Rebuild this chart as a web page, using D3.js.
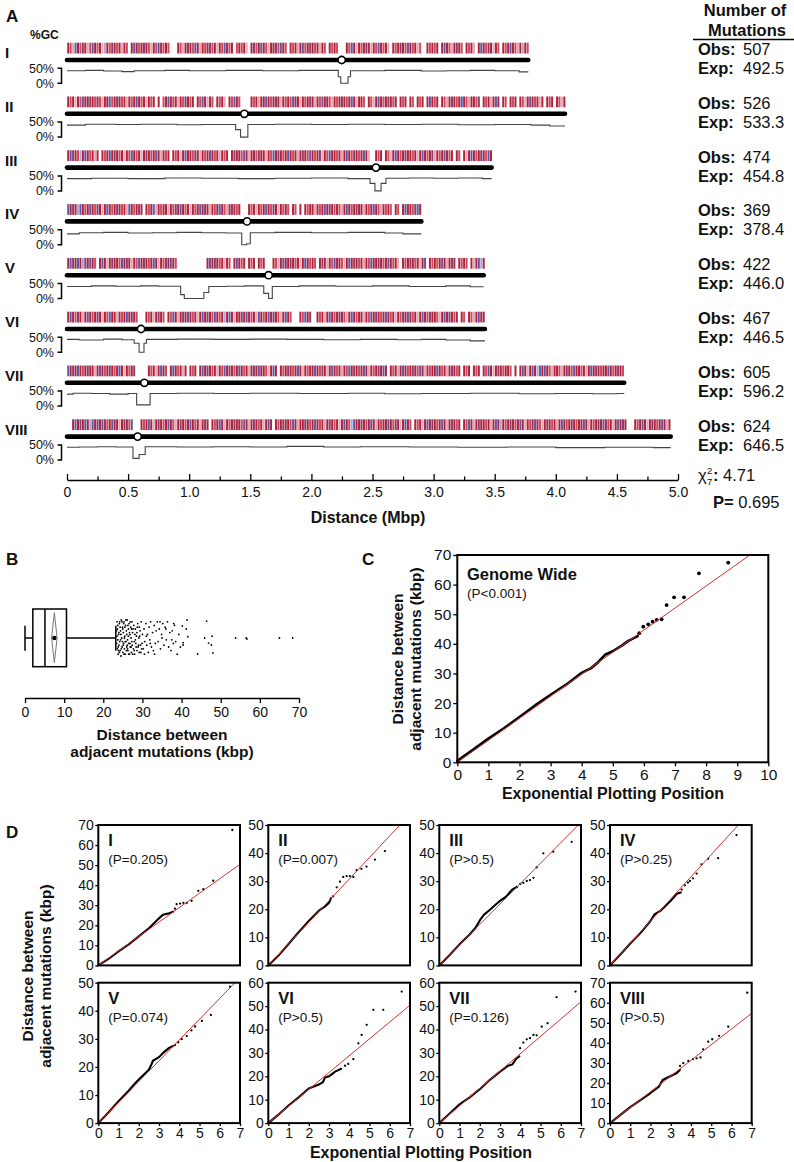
<!DOCTYPE html>
<html><head><meta charset="utf-8">
<script src="https://cdn.jsdelivr.net/npm/d3@7"></script>
<style>
body{margin:0;background:#fff}
svg{display:block}
text{font-family:"Liberation Sans",Arial,Helvetica,sans-serif;fill:#111}
</style>
</head><body>
<svg id="c" width="794" height="1162"></svg>
<script>
// ---------------- DATA ----------------
const chromNames = ["I","II","III","IV","V","VI","VII","VIII"];
const chromLengths = [3.775,4.075,3.475,2.90,3.41,3.42,4.56,4.94];
const centromeres = [2.248,1.451,2.528,1.473,1.65,0.606,0.633,0.578];
const observed = ["507","526","474","369","422","467","605","624"];
const expected = ["492.5","533.3","454.8","378.4","446.0","446.5","596.2","646.5"];
const chiSquare = "4.71";
const pValueA = "0.695";
const distanceTicks = [0,0.5,1,1.5,2,2.5,3,3.5,4,4.5,5];
const distanceMinorTicks = [0.25,0.75,1.25,1.75,2.25,2.75,3.25,3.75,4.25,4.75];
// mutation stripes: one character per 0.02 Mbp bin (R dark red, r red, p pink, b blue, l lavender, m purple, . none)
const stripeBin = 0.02;
const mutationStripes = [
 "RrpbRrmRpr bRrRplRrmR rRpRr.RbRr RmRrpRrbRr Rr...RrpRm RrbRpRrRmr RpRrbRrR.r RrRp.RmrRb RrpRRmrbRr .RrRpRbrRm RrRpRr.RrR r...RrbRpR rRmRpRrbRr Rp.RrRmRrb RrRpr..RrR rR.RbRrpRm Rr.RrRp.Rb RrmRpRr.Rr RbRrpRlRr",
 "RrRpRrbRRm RrRrpRRbrR mRrRpRrRbR rRpRrR.R.r RbRrRpRrmR rR.RrbRpRr .RrRp.RrbR r....RrRpR RbRrRmRpRr RrbRRpRrRm RpRrbRRrpR rRmRrRbRpR Rr.RrpRbRr RmRrR.RrR. Rr.RrR.RbR rR.RrpRmRr RbRrpRRrm. RrRpRbR.Rr .RrR.RrpRb RrRpR.RrR. RrpR",
 "RbmRrlRbRr RpR.RrRbRm RrRpRrbRrR pRmRrRbRpR rR.RrRpRbR RrmRpRrRbR rRpRrR.RmR RrbRpRRrmR RpRrbRmRrR bRrRpRmRrb RrRmpRrbRR rRpRbRrmRr RbRp..RrR. RrpRbRrRmR RrRpRbRrRm pRrRbRrR.R r.RpRbRrRm RrbR",
 "bRmRlbRrRb RrmRpRbRrR mRrRpbRrRm R.RrRbpRrR RpRrmRbRrR pRrRbRmRpR rRbRrpRmRr R...RrRpRr RbRrmRpRrR r.Rr.R.RrR RpRrRbRmRr RrpRbRrRmR RpRrRbRrpR rRr.Rr.RbR RrmbR",
 "RbmRbRlmRb Rr.RbRpRmR RrbRmRpRrb RmRrRbRpRr mRbRr..... .......RbR mRrRpRr.Rb RrR.RrR.Rr R...RrpRbR RmRrRpRbRr Rr.RmRpRrb RRrpRbRmRr RpRrbRRmRr RbRrRp.RrR mRrRpRb.Rr RrRbRpRmR. RrRr.RpRbl R",
 "RbRrmRpRbR rRmRpRrbRR pRrRbRmRr. ..RrRpRmRr .RrbRpRmRb RrRpRbRmRr bRrRlRbRpR RmRbRrRpbR rRbRmRrpRb Rr...RrbRm ..RrRpRbRr RmRrpRbRrR RpRrbRmRrR bRrRpRrmRb RrRpRbRrmR RrpRbRmRrR .Rr.RrpRbR R",
 "bRmRbRrRmR RpRbRrRmRr RbRpRrRm.. ...RrRpRbR r.RbRrRpR. RrR.RbRmRr RpRrbRmRrR bRrRpRmRbR RrpRbR.RrR mRrRbRpRrR RbRrmRpRbR rRpRrbRmRr RbRpRrRmRb R.RrRpRbRr RmRrbRpRrR RbRrRpRmRr R.RrR.RrR. RrbRpRmRrR Rr.R.RbRpR bRlbRbRrpR RrpRmRrbRR rRpRbRmRrR RbRrRmRr",
 "..RbRmRbRl bRmRbRrRbR RpRmRrb... RrRbRpRmRr RbRrpRmRrR bRrRpRmR.R rRbRpRrRmR RrbRpRmRrR pRbR.RrRmR RrbRpRRmRr RbRrRpRmRr RpRbRrlbRR mRrRbRpRrR RbRrmRpRbR r.RrRpRbRm RrRbRpRmRr R.RrbRpRmR RrRpRbRlRr RmRrRbRpRr RbRrpRmRrR pRbRrRmRrR RbRpRrRmRb RrRpRbRmR. ..RrRbRpRm RrRbRpR"
];
// %GC profile: [start Mbp, %GC] steps
const gcSteps = [
 [[0,42],[0.15,43],[0.3,41],[0.45,39],[0.55,42],[0.8,43],[1.0,42],[1.3,43],[1.6,42],[1.9,43],[2.22,22],[2.24,0],[2.30,22],[2.32,42],[2.6,43],[2.9,41],[3.1,42],[3.3,43],[3.5,42],[3.7,38]],
 [[0,40],[0.15,43],[0.4,42],[0.6,43],[0.9,41],[1.1,42],[1.38,25],[1.42,0],[1.48,42],[1.7,43],[2.0,42],[2.3,43],[2.6,42],[2.9,43],[3.2,41],[3.5,42],[3.8,40],[3.95,37]],
 [[0,41],[0.2,42],[0.5,41],[0.8,43],[1.1,42],[1.4,41],[1.7,42],[2.0,43],[2.3,41],[2.48,25],[2.52,0],[2.57,25],[2.61,42],[2.8,43],[3.0,42],[3.2,43],[3.4,41]],
 [[0,36],[0.1,40],[0.3,41],[0.5,39],[0.7,40],[0.9,41],[1.1,40],[1.3,39],[1.43,0],[1.47,3],[1.50,40],[1.7,41],[2.0,40],[2.3,41],[2.6,39],[2.75,36]],
 [[0,40],[0.2,42],[0.4,41],[0.6,42],[0.75,41],[0.93,13],[0.96,0],[1.12,20],[1.16,40],[1.3,41],[1.45,42],[1.61,17],[1.65,0],[1.68,40],[1.9,42],[2.2,41],[2.5,42],[2.8,40],[3.1,42],[3.3,39]],
 [[0,43],[0.1,41],[0.3,44],[0.45,42],[0.55,30],[0.59,0],[0.63,30],[0.65,43],[0.9,44],[1.2,43],[1.5,44],[1.8,43],[2.1,42],[2.4,43],[2.7,42],[2.9,43],[3.1,41],[3.3,38]],
 [[0,40],[0.05,43],[0.2,42],[0.35,40],[0.5,42],[0.57,4],[0.68,42],[0.9,43],[1.2,42],[1.5,43],[1.9,42],[2.3,43],[2.6,41],[2.9,42],[3.3,43],[3.7,41],[4.0,42],[4.3,41],[4.5,42]],
 [[0,42],[0.1,43],[0.25,44],[0.4,43],[0.54,5],[0.59,18],[0.64,44],[0.9,43],[1.2,44],[1.5,43],[1.8,45],[2.1,43],[2.4,44],[2.8,43],[3.2,42],[3.6,43],[4.0,41],[4.4,42],[4.8,41]]
];

// Panel B: box plot of distances (kbp)
const boxMin = 0, boxQ1 = 2.0, boxMedian = 5.1, boxQ3 = 10.6, boxMax = 23.2;
const boxMean = 7.5, boxCiLo = 6.8, boxCiHi = 8.2;
const distanceKbpTicks = [0,10,20,30,40,50,60,70];
// outliers: [distance kbp, vertical jitter -1..1]
const outliers = [
 [23.5,-0.9],[23.6,-0.5],[23.7,0.1],[23.6,0.6],[23.8,0.9],[23.9,-0.2],[24.0,0.4],[24.1,-0.8],[24.2,0.2],[24.3,0.7],[24.4,-0.4],[24.5,1.0],[24.6,-1.0],[24.7,0.0],[24.8,0.5],[24.9,-0.6],[25.0,0.8],[25.1,-0.3],[25.2,0.3],[25.3,-0.9],[25.4,0.6],[25.5,-0.1],[25.6,0.9],[25.7,-0.7],[25.8,0.2],[25.9,-0.4],[26.0,0.5],[26.1,-1.0],[26.2,0.1],[26.3,0.7],[26.4,-0.5],[26.5,0.3],[26.6,-0.8],[26.7,0.9],[26.8,-0.2],[26.9,0.5],[27.0,-0.6],[27.1,0.0],[27.2,0.8],[27.3,-0.9],[27.4,0.4],[27.5,-0.3],[27.7,0.6],[27.8,-0.7],[27.9,0.2],[28.0,0.9],[28.2,-0.5],[28.3,0.3],[28.5,-0.1],[28.6,0.7],[28.8,-0.8],[28.9,0.5],[29.1,0.0],[29.2,0.8],[29.4,-0.4],[29.5,0.4],[29.7,-0.9],[29.8,0.6],[30.0,-0.2],
 [23.4,0.3],[23.5,-0.1],[23.7,-0.7],[23.8,0.5],[24.0,-0.3],[24.1,0.8],[24.3,-0.6],[24.4,0.1],[24.6,0.6],[24.8,-0.9],[25.0,-0.5],[25.1,0.4],[25.3,0.9],[25.5,-0.6],[25.6,0.2],[25.8,-1.0],[26.0,-0.2],[26.2,0.6],[26.3,-0.7],[26.5,0.9],[26.7,-0.3],[26.9,-0.9],[27.1,0.5],[27.3,0.2],[27.6,-0.5],[27.9,0.7],[28.1,-0.2],[28.4,0.5],[28.7,-0.6],[29.0,0.4],[29.3,-0.1],[29.6,0.8],[29.9,0.3],
 [23.4,-0.4],[23.9,0.7],[24.2,-0.9],[24.5,-0.2],[24.9,0.2],[25.2,-0.8],[25.4,0.0],[25.9,0.7],[26.1,0.4],[26.4,-0.1],[26.8,0.3],[27.2,-0.5],[27.5,0.9],[28.2,0.1],[28.6,-0.3],[29.2,-0.6],
 [30.2,0.6],[30.4,-0.5],[30.6,0.2],[30.9,-0.8],[31.1,0.4],[31.3,-0.2],[31.5,0.8],[31.7,-0.6],[31.9,0.1],[32.1,-0.9],[32.3,0.5],[32.6,-0.3],[32.8,0.7],[33.0,-0.7],[33.3,0.3],[33.5,-0.4],[33.8,-0.9],[34.0,0.2],[34.3,-0.5],[34.6,0.6],[34.9,-0.2],[35.2,-0.8],[35.5,0.4],[35.8,-0.6],[36.1,0.1],[36.4,-0.9],[36.7,0.5],[37.0,-0.3],[37.3,0.7],[37.6,-0.4],[37.9,0.3],[38.2,-0.7],[38.5,0.2],[38.9,0.9],[39.3,-0.2],[39.7,0.5],[30.5,0.9],[31.0,-0.1],[32.0,0.3],[33.1,0.9],[34.5,-0.9],[35.0,0.0],[36.0,-0.5],[37.5,0.1],[38.0,-0.8],
 [40.2,-0.67],[41.2,-0.5],[41.4,-1.0],[41.6,-0.07],[40.4,0.26],[40.4,0.39],[45.9,0.0],[46.4,-0.94],[46.9,0.28],[47.6,0.39],[47.8,-0.1],[48.0,0.83],[44.1,0.89],[53.8,0.0],[56.5,0.0],[56.7,0.05],[65.0,0.0],[68.4,0.0]
];

// Panel C: genome wide QQ
const genomeSlope = 7.44;
const genomeDense = [[0,0.5],[0.5,4.2],[1,8],[1.5,11.5],[2,15.3],[2.5,19.2],[3,22.8],[3.5,26.2],[4,30.2],[4.3,31.8],[4.5,33.5],[4.75,36.3],[5,37.5],[5.3,39.5],[5.5,41],[5.8,42.6]];
const genomeTail = [[5.85,43.6],[5.98,45.8],[6.14,46.6],[6.28,47.5],[6.41,48.1],[6.57,48.3],[6.73,53.1],[6.97,55.7],[7.29,55.7],[7.77,63.8],[8.71,67.4]];
const genomeXTicks = [0,1,2,3,4,5,6,7,8,9,10];
const genomeYTicks = [0,10,20,30,40,50,60,70];

// Panel D: per-chromosome QQ
const qqNames = ["I","II","III","IV","V","VI","VII","VIII"];
const qqP = ["(P=0.205)","(P=0.007)","(P>0.5)","(P>0.25)","(P=0.074)","(P>0.5)","(P=0.126)","(P>0.5)"];
const qqYMax = [70,50,50,50,50,60,60,70];
const qqSlopes = [7.2,7.69,7.28,7.89,7.4,7.2,7.41,7.82];
const qqXTicks = [0,1,2,3,4,5,6,7];
const qqDense = [
 [[0,0],[0.5,3.2],[1,7],[1.5,10.5],[2,14.5],[2.5,18.5],[2.8,21.5],[3,23.5],[3.2,25.3],[3.5,26],[3.7,26.8]],
 [[0,0],[0.5,3.5],[1,7.6],[1.5,11.8],[2,15.8],[2.5,19.5],[2.8,21],[3,22.3],[3.1,24]],
 [[0,0],[0.5,3.6],[1,7.5],[1.5,11],[1.8,13.5],[2,16],[2.2,18],[2.5,19.8],[3,23],[3.3,24.5],[3.6,27],[3.85,28]],
 [[0,0],[0.5,3.8],[1,7.8],[1.5,11.5],[2,15.8],[2.2,18.2],[2.5,19.5],[3,23],[3.3,25.5],[3.5,26]],
 [[0,0],[0.5,3.8],[1,7.8],[1.5,11.5],[1.8,14],[2,15.5],[2.5,19],[2.6,20.5],[2.7,22.2],[3,23.5],[3.2,25],[3.5,26.8],[3.7,27.5]],
 [[0,0],[0.5,3.6],[1,7.5],[1.5,11],[2,14.8],[2.5,16.5],[2.7,17.5],[2.8,19.5],[3,20],[3.3,22],[3.6,23.2]],
 [[0,0],[0.5,4],[1,8],[1.5,11],[2,14.5],[2.5,18.5],[3,22],[3.4,24.5],[3.6,25],[3.8,27.5],[3.95,28.5]],
 [[0,0],[0.5,4],[1,8],[1.5,11.5],[2,15],[2.4,18],[2.6,21.5],[3,23.5],[3.3,25],[3.45,26.5]]
];
const qqTail = [
 [[3.79,28.3],[3.87,30.5],[4.04,30.8],[4.2,31.2],[4.37,31.2],[4.61,32.2],[4.94,37.2],[5.19,38],[5.68,42.2],[6.62,67.5]],
 [[3.2,24.6],[3.38,27.8],[3.54,29.8],[3.7,31.5],[3.87,31.8],[4.03,31.8],[4.2,31.5],[4.36,33.9],[4.6,34.4],[4.85,35.2],[5.27,37.7],[5.76,40.7]],
 [[4.0,29],[4.15,29.4],[4.32,30.1],[4.48,30.4],[4.65,31.2],[4.81,34.9],[5.14,39.9],[5.63,40.5],[6.54,44]],
 [[3.54,27],[3.7,28.5],[3.85,29.5],[3.95,30.1],[4.1,31],[4.28,32.7],[4.52,36],[4.85,38],[5.34,38.2],[6.25,46.4]],
 [[3.79,27.8],[3.95,28.8],[4.12,29.9],[4.37,31],[4.6,33],[4.78,34.4],[5.12,36.4],[5.56,38.5],[6.51,48.6]],
 [[3.79,24.5],[3.95,25.3],[4.2,27.3],[4.45,34.1],[4.61,37.7],[4.86,42],[5.19,48.4],[5.68,48.4],[6.59,56.2]],
 [[3.99,32],[4.15,34.4],[4.32,35.8],[4.48,36.3],[4.65,37.7],[4.81,37.5],[5.06,41.2],[5.35,42.7],[5.79,53.8],[6.73,56.2]],
 [[3.46,28.5],[3.62,29.9],[3.87,31],[4.1,31.9],[4.28,32.3],[4.47,32.7],[4.6,36.8],[4.85,40.6],[5.05,41.8],[5.39,43.5],[5.84,48.1],[6.78,65]]
];

// ---------------- DRAW ----------------
const stripeColors = {R:"#b1233d", r:"#cc4b5e", p:"#e7a7b3", b:"#5a5aa9", l:"#aaaada", m:"#85406f"};
const svg = d3.select("#c");
function txt(g, x, y, s, size, bold, anchor) {
  return g.append("text").attr("x",x).attr("y",y).text(s)
    .attr("font-size", size).attr("font-weight", bold ? "bold" : "normal")
    .attr("text-anchor", anchor || "start");
}
function styleAxis(g, fs) {
  g.selectAll("text").attr("font-size", fs).attr("fill","#111");
  g.selectAll("line").attr("stroke","#000").attr("stroke-width",1.3);
  g.select(".domain").attr("stroke","#000").attr("stroke-width",1.6);
}

// ===== Panel A =====
txt(svg, 6, 22, "A", 17, true);
txt(svg, 30, 39, "%GC", 12, true);
const xA = d3.scaleLinear().domain([0,5]).range([67,678]);
const rowY = i => 60 + i*53.8;
const gcY = (i,v) => rowY(i) + 8.3 + (50 - v)*0.3;

chromNames.forEach((name,i) => {
  const y0 = rowY(i);
  const g = svg.append("g");
  txt(g, 5, y0-2, name, 15, true);
  const s = mutationStripes[i].replace(/ /g,"");
  const stripes = [];
  for (let k=0; k<s.length; k++) if (s[k] !== ".") stripes.push({pos:(k+0.5)*stripeBin, c:s[k]});
  g.append("g").selectAll("rect").data(stripes).join("rect")
    .attr("x", d => xA(d.pos)-1).attr("width",2)
    .attr("y", y0-17.3).attr("height", 10.8)
    .attr("fill", d => stripeColors[d.c]);
  g.append("line").attr("x1",xA(0)).attr("x2",xA(chromLengths[i]))
    .attr("y1",y0).attr("y2",y0).attr("stroke","#000").attr("stroke-width",4.6).attr("stroke-linecap","round");
  g.append("circle").attr("cx",xA(centromeres[i])).attr("cy",y0).attr("r",3.6)
    .attr("fill","#fff").attr("stroke","#000").attr("stroke-width",1.6);
  const steps = gcSteps[i];
  const pts = steps.concat([[chromLengths[i], steps[steps.length-1][1]]]);
  const gl = d3.line().x(d => xA(d[0])).y(d => gcY(i,d[1])).curve(d3.curveStepAfter);
  g.append("path").attr("d", gl(pts)).attr("fill","none").attr("stroke","#444").attr("stroke-width",1.1);
  // GC scale bracket
  txt(g, 54, y0+12.5, "50%", 12.5, false, "end");
  txt(g, 54, y0+27.5, "0%", 12.5, false, "end");
  g.append("path").attr("d", `M57.5,${gcY(i,50)}H61.5V${gcY(i,0)}H57.5`)
    .attr("fill","none").attr("stroke","#000").attr("stroke-width",1.5);
  // counts
  txt(g, 698, y0-5, "Obs:", 16.5, true);
  txt(g, 743, y0-5, observed[i], 16.5, false);
  txt(g, 698, y0+14, "Exp:", 16.5, true);
  txt(g, 743, y0+14, expected[i], 16.5, false);
});
txt(svg, 745, 16, "Number of", 16.5, true, "middle");
txt(svg, 747, 36, "Mutations", 16.5, true, "middle");
svg.append("line").attr("x1",693).attr("x2",794).attr("y1",39.5).attr("y2",39.5).attr("stroke","#000").attr("stroke-width",1.5);
const chi = svg.append("text").attr("x",698).attr("y",481).attr("font-size",16.5);
chi.append("tspan").text("χ");
svg.append("text").attr("x",707).attr("y",474).attr("font-size",9.5).text("2");
svg.append("text").attr("x",707).attr("y",485).attr("font-size",9.5).text("7");
const chi2 = svg.append("text").attr("x",713).attr("y",481).attr("font-size",16.5);
chi2.append("tspan").attr("font-weight","bold").text(":");
chi2.append("tspan").text(" " + chiSquare);
const pt = svg.append("text").attr("x",713).attr("y",508).attr("font-size",16.5);
pt.append("tspan").attr("font-weight","bold").text("P=");
pt.append("tspan").text(" " + pValueA);

const axA = svg.append("g").attr("transform","translate(0,480)")
  .call(d3.axisBottom(xA).tickValues(distanceTicks).tickSize(-6).tickSizeOuter(0).tickPadding(7)
    .tickFormat(d => d === 0 ? "0" : d3.format(".1f")(d)));
styleAxis(axA, 14);
const axAm = svg.append("g").attr("transform","translate(0,480)")
  .call(d3.axisBottom(xA).tickValues(distanceMinorTicks).tickSize(-3.5).tickSizeOuter(0).tickFormat(""));
styleAxis(axAm, 14);
axAm.select(".domain").remove();
txt(svg, 368, 523, "Distance (Mbp)", 16, true, "middle");

// ===== Panel B =====
txt(svg, 6, 565, "B", 17, true);
const xB = d3.scaleLinear().domain([0,70]).range([25,299]);
const yBc = 638;
const gB = svg.append("g");
gB.append("rect").attr("x",xB(boxQ1)).attr("width",xB(boxQ3)-xB(boxQ1)).attr("y",609).attr("height",57.7)
  .attr("fill","none").attr("stroke","#000").attr("stroke-width",1.5);
gB.append("line").attr("x1",xB(boxMedian)).attr("x2",xB(boxMedian)).attr("y1",609).attr("y2",666.7).attr("stroke","#000").attr("stroke-width",1.5);
gB.append("line").attr("x1",xB(boxMin)).attr("x2",xB(boxQ1)).attr("y1",yBc).attr("y2",yBc).attr("stroke","#000").attr("stroke-width",1.5);
gB.append("line").attr("x1",xB(boxQ3)).attr("x2",xB(boxMax)).attr("y1",yBc).attr("y2",yBc).attr("stroke","#000").attr("stroke-width",1.5);
[boxMin, boxMax].forEach(v => gB.append("line").attr("x1",xB(v)).attr("x2",xB(v)).attr("y1",625.7).attr("y2",650.7).attr("stroke","#000").attr("stroke-width",1.5));
gB.append("path").attr("d", `M${xB(boxMean)},612.7L${xB(boxCiHi)},${yBc}L${xB(boxMean)},662.7L${xB(boxCiLo)},${yBc}Z`)
  .attr("fill","#fff").attr("stroke","#777").attr("stroke-width",1);
gB.append("circle").attr("cx",xB(boxMean)).attr("cy",yBc).attr("r",2.2).attr("fill","#000");
gB.append("g").selectAll("circle").data(outliers).join("circle")
  .attr("cx", d => xB(d[0])).attr("cy", d => yBc + d[1]*18).attr("r",0.9).attr("fill","#000");
const axB = svg.append("g").attr("transform","translate(0,698)")
  .call(d3.axisBottom(xB).tickValues(distanceKbpTicks).tickSize(5).tickSizeOuter(0).tickPadding(4)
    .tickFormat(d3.format("d")));
styleAxis(axB, 14);
txt(svg, 162, 740, "Distance between", 15.5, true, "middle");
txt(svg, 162, 757, "adjacent mutations (kbp)", 15.5, true, "middle");

// ===== QQ panel helper =====
let clipId = 0;
function qqPanel(o) {
  const g = svg.append("g");
  const x = d3.scaleLinear().domain([0,o.xMax]).range([o.left, o.left+o.w]);
  const y = d3.scaleLinear().domain([0,o.yMax]).range([o.top+o.h, o.top]);
  const id = "clip" + (clipId++);
  g.append("clipPath").attr("id",id).append("rect").attr("x",o.left).attr("y",o.top).attr("width",o.w).attr("height",o.h);
  const ln = d3.line().x(d => x(d[0])).y(d => y(d[1]));
  g.append("path").attr("d", ln(o.dense)).attr("fill","none").attr("stroke","#000")
    .attr("stroke-width",o.lw).attr("stroke-linecap","round").attr("stroke-linejoin","round");
  g.append("g").selectAll("circle").data(o.tail).join("circle")
    .attr("cx", d => x(d[0])).attr("cy", d => y(d[1])).attr("r", o.dr).attr("fill","#000");
  const xEnd = Math.min(o.xMax, o.yMax/o.slope);
  g.append("line").attr("clip-path",`url(#${id})`)
    .attr("x1",x(0)).attr("y1",y(0)).attr("x2",x(xEnd)).attr("y2",y(xEnd*o.slope))
    .attr("stroke","#d2322a").attr("stroke-width",1);
  g.append("rect").attr("x",o.left).attr("y",o.top).attr("width",o.w).attr("height",o.h)
    .attr("fill","none").attr("stroke","#000").attr("stroke-width",2);
  const ay = g.append("g").attr("transform",`translate(${o.left},0)`)
    .call(d3.axisLeft(y).tickValues(o.yTicks).tickSize(o.ts).tickSizeOuter(0).tickPadding(o.tp)
      .tickFormat(d3.format("d")));
  styleAxis(ay, o.fs); ay.select(".domain").remove();
  if (o.xLabels) {
    const ax = g.append("g").attr("transform",`translate(0,${o.top+o.h})`)
      .call(d3.axisBottom(x).tickValues(o.xTicks).tickSize(o.ts).tickSizeOuter(0).tickPadding(o.tpx)
        .tickFormat(d3.format("d")));
    styleAxis(ax, o.fs); ax.select(".domain").remove();
  }
  return g;
}

// ===== Panel C =====
txt(svg, 362, 565, "C", 17, true);
qqPanel({left:457.3, top:555, w:311, h:207.3, xMax:10, yMax:70, slope:genomeSlope,
  dense:genomeDense, tail:genomeTail, lw:2.6, dr:1.9, yTicks:genomeYTicks, xTicks:genomeXTicks,
  ts:4, tp:2, tpx:3, fs:15.5, xLabels:true});
txt(svg, 467, 580, "Genome Wide", 16.5, true);
txt(svg, 467, 598, "(P<0.001)", 13.5, false);
txt(svg, 613, 799, "Exponential Plotting Position", 16, true, "middle");
txt(svg, 0, 0, "Distance between", 15.5, true, "middle").attr("transform","translate(403,659) rotate(-90)");
txt(svg, 0, 0, "adjacent mutations (kbp)", 15.5, true, "middle").attr("transform","translate(421,659) rotate(-90)");

// ===== Panel D =====
txt(svg, 6, 838, "D", 17, true);
const dLefts = [98.3, 268.3, 439.3, 610];
const dTops = [825, 982.7];
qqNames.forEach((nm,i) => {
  const left = dLefts[i%4], top = dTops[Math.floor(i/4)];
  const yt = d3.range(0, qqYMax[i]+1, 10);
  qqPanel({left, top, w:141.7, h:140.4, xMax:7, yMax:qqYMax[i], slope:qqSlopes[i],
    dense:qqDense[i], tail:qqTail[i], lw:2.1, dr:1.15, yTicks:yt, xTicks:qqXTicks,
    ts:3, tp:1.5, tpx:2, fs:14, xLabels: i >= 4});
  txt(svg, left+10, top+21, nm, 16.5, true);
  txt(svg, left+10, top+39, qqP[i], 13.5, false);
});
txt(svg, 421, 1158, "Exponential Plotting Position", 16, true, "middle");
txt(svg, 0, 0, "Distance between", 15.5, true, "middle").attr("transform","translate(33,976) rotate(-90)");
txt(svg, 0, 0, "adjacent mutations (kbp)", 15.5, true, "middle").attr("transform","translate(51,976) rotate(-90)");
</script>
</body></html>
